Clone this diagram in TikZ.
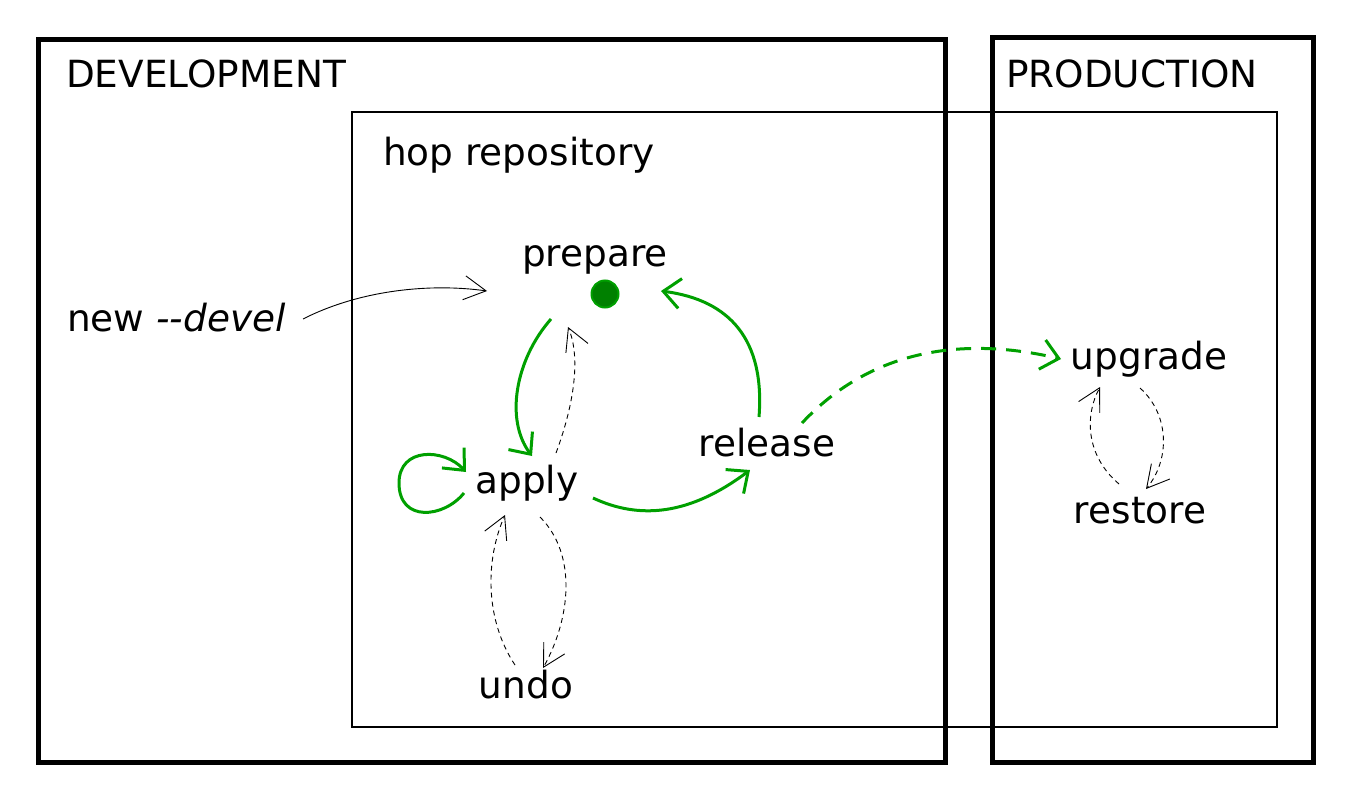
\documentclass[tikz,border=0pt]{standalone}
\usepackage{fontspec}
\setmainfont{DejaVu Sans}
\usetikzlibrary{arrows.meta}
\definecolor{hopgreen}{RGB}{0,160,0}
\definecolor{dotgreen}{RGB}{0,128,0}
\begin{document}
\begin{tikzpicture}[x=1pt,y=-1pt,
  lbl/.style={anchor=base, font=\fontsize{37.4}{44}\selectfont, inner sep=0pt},
  frame/.style={draw, line width=5pt},
  repo/.style={draw, line width=1.3pt},
  flow/.style={draw=hopgreen, line width=3pt, -{Straight Barb[length=17pt,width=30pt]}},
  flowdash/.style={flow, dash pattern=on 15pt off 10pt},
  thinarrow/.style={draw=black, line width=0.9pt, -{Straight Barb[length=22pt,width=24pt]}},
  thindash/.style={thinarrow, dash pattern=on 5pt off 4pt}
]
\useasboundingbox (0,0) rectangle (1351,800);
\draw[repo] (352,112) rectangle (1277,727);
\draw[frame] (38,40) rectangle (945,762);
\draw[frame] (992,38) rectangle (1313,762);

\node[lbl, anchor=base west] (dev) at (66,88) {DEVELOPMENT};
\node[lbl, anchor=base west] (prod) at (1006,88) {PRODUCTION};
\node[lbl, anchor=base west] (hop) at (383,165) {hop repository};
\node[lbl, anchor=base west] (newdevel) at (67,331) {new \textit{-{}-devel}};
\node[lbl] (prepare) at (595,266) {prepare};
\node[circle, fill=dotgreen, draw=hopgreen, line width=2pt, minimum size=27pt, inner sep=0pt] (dot) at (605,294) {};
\node[lbl] (apply) at (527,493) {apply};
\node[lbl] (release) at (767,456) {release};
\node[lbl] (undo) at (526,698) {undo};
\node[lbl] (upgrade) at (1149,369) {upgrade};
\node[lbl] (restore) at (1140,523) {restore};

% new --devel -> prepare
\draw[thinarrow] ([shift={(236,-12)}]newdevel.base west) .. controls +(57,-29) and +(-57,-8) .. ([shift={(-108,25)}]prepare.base);
% prepare -> apply
\draw[flow] ([shift={(-44,53)}]prepare.base) .. controls +(-36,41) and +(-27,-36) .. ([shift={(5,-37)}]apply.base);
% apply -> prepare (dashed)
\draw[thindash] ([shift={(29,-40)}]apply.base) .. controls +(16,-43) and +(14,33) .. ([shift={(-27,61)}]prepare.base);
% apply self loop
\draw[flow] ([shift={(-63,0)}]apply.base) .. controls +(-20,25) and +(0,40) .. ([shift={(-128,-10)}]apply.base) .. controls +(0,-36) and +(-22,-24) .. ([shift={(-61,-21)}]apply.base);
% apply -> release
\draw[flow] ([shift={(66,5)}]apply.base) .. controls +(47,22) and +(-60,45) .. ([shift={(-17,14)}]release.base);
% release -> prepare
\draw[flow] ([shift={(-8,-39)}]release.base) .. controls +(6,-77) and +(69,9) .. ([shift={(66,25)}]prepare.base);
% release -> upgrade
\draw[flowdash] ([shift={(35,-33)}]release.base) .. controls +(78,-83) and +(-81,-19) .. ([shift={(-88,-10)}]upgrade.base);
% apply -> undo
\draw[thindash] ([shift={(13,24)}]apply.base) .. controls +(38,38) and +(27,-48) .. ([shift={(17,-30)}]undo.base);
% undo -> apply
\draw[thindash] ([shift={(-11,-33)}]undo.base) .. controls +(-30,-45) and +(-20,45) .. ([shift={(-22,22)}]apply.base);
% restore -> upgrade
\draw[thindash] ([shift={(-21,-39)}]restore.base) .. controls +(-34,-29) and +(-15,28) .. ([shift={(-49,18)}]upgrade.base);
% upgrade -> restore
\draw[thindash] ([shift={(-9,19)}]upgrade.base) .. controls +(30,27) and +(24,-29) .. ([shift={(6,-34)}]restore.base);
\end{tikzpicture}
\end{document}
